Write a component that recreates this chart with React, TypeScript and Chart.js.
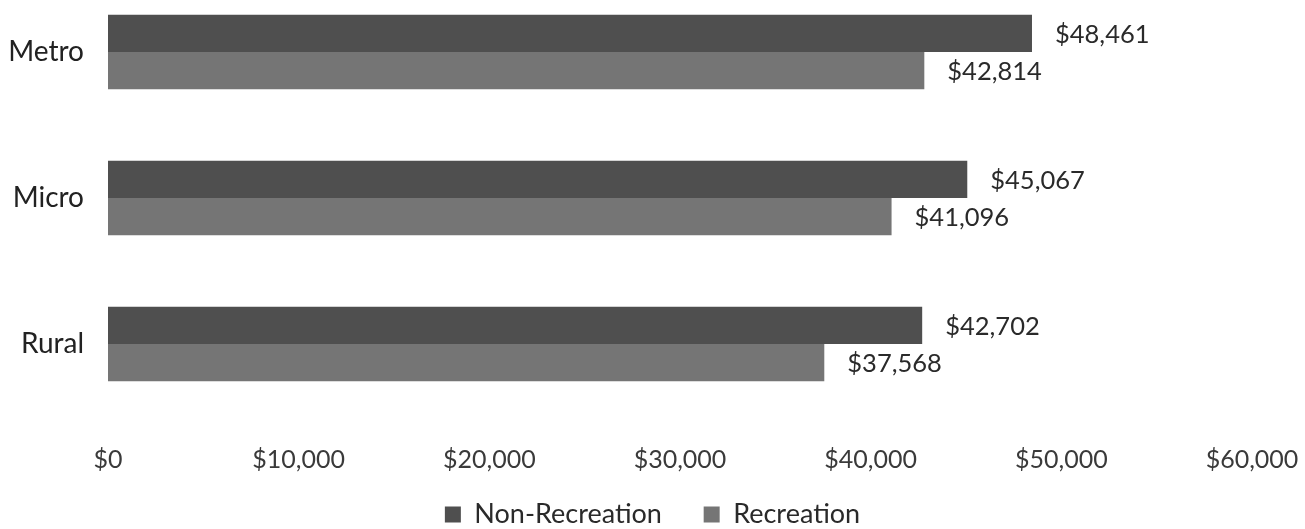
import React, { useEffect, useRef } from "react";
import { Chart, registerables } from "chart.js";

Chart.register(...registerables);

const categories = ["Metro", "Micro", "Rural"];
const nonRecreation = [48461, 45067, 42702];
const recreation = [42814, 41096, 37568];
const seriesNames = ["Non-Recreation", "Recreation"];
const xMin = 0;
const xMax = 60000;
const xStep = 10000;

const fmt = (v: number) => "$" + v.toLocaleString("en-US");

const FONT = "Lato";

const valueLabels = {
  id: "valueLabels",
  afterDatasetsDraw(chart: any) {
    const ctx = chart.ctx;
    ctx.save();
    ctx.font = `25.5px ${FONT}`;
    ctx.fillStyle = "#2a2a2a";
    ctx.textAlign = "left";
    ctx.textBaseline = "middle";
    chart.data.datasets.forEach((ds: any, di: number) => {
      const meta = chart.getDatasetMeta(di);
      meta.data.forEach((bar: any, i: number) => {
        ctx.fillText(fmt(ds.data[i]), bar.x + 23, bar.y + 1);
      });
    });
    ctx.restore();
  },
};

export default function App() {
  const ref = useRef<HTMLCanvasElement>(null);
  useEffect(() => {
    if (!ref.current) return;
    const chart = new Chart(ref.current, {
      type: "bar",
      data: {
        labels: categories,
        datasets: [
          {
            label: seriesNames[0],
            data: nonRecreation,
            backgroundColor: "#4f4f4f",
            categoryPercentage: 0.51,
            barPercentage: 1.0,
          },
          {
            label: seriesNames[1],
            data: recreation,
            backgroundColor: "#757575",
            categoryPercentage: 0.51,
            barPercentage: 1.0,
          },
        ],
      },
      options: {
        indexAxis: "y",
        animation: false,
        responsive: true,
        maintainAspectRatio: false,
        layout: { padding: 0 },
        scales: {
          x: {
            min: xMin,
            max: xMax,
            grid: { display: false, drawTicks: false },
            border: { display: false },
            afterFit: (s: any) => {
              s.height = 63;
              s.paddingLeft = 0;
              s.paddingRight = 53;
            },
            ticks: {
              stepSize: xStep,
              padding: 28,
              color: "#3a3a3a",
              font: { family: FONT, size: 25 },
              callback: (v: any) => fmt(Number(v)),
            },
          },
          y: {
            grid: { display: false, drawTicks: false },
            border: { display: false },
            afterFit: (s: any) => {
              s.width = 108;
              s.paddingTop = 0;
              s.paddingBottom = 0;
            },
            ticks: {
              padding: 24,
              color: "#222222",
              font: { family: FONT, size: 28 },
            },
          },
        },
        plugins: {
          legend: {
            position: "bottom",
            labels: {
              boxWidth: 16,
              boxHeight: 16,
              padding: 21,
              color: "#2a2a2a",
              font: { family: FONT, size: 27 },
              generateLabels: (chart: any) => {
                const items = Chart.defaults.plugins.legend.labels.generateLabels(chart);
                if (items.length > 1) items[0].text = items[0].text + "   ";
                return items;
              },
            },
          },
          tooltip: { enabled: false },
        },
      },
      plugins: [valueLabels],
    });
    return () => chart.destroy();
  }, []);
  return (
    <div
      style={{
        position: "fixed",
        left: 0,
        top: 0,
        width: 1305,
        height: 529,
        overflow: "hidden",
        background: "#ffffff",
      }}
    >
      <div
        style={{
          position: "absolute",
          left: 0,
          top: -21,
          width: 1305,
          height: 559,
        }}
      >
        <canvas ref={ref} />
      </div>
    </div>
  );
}
